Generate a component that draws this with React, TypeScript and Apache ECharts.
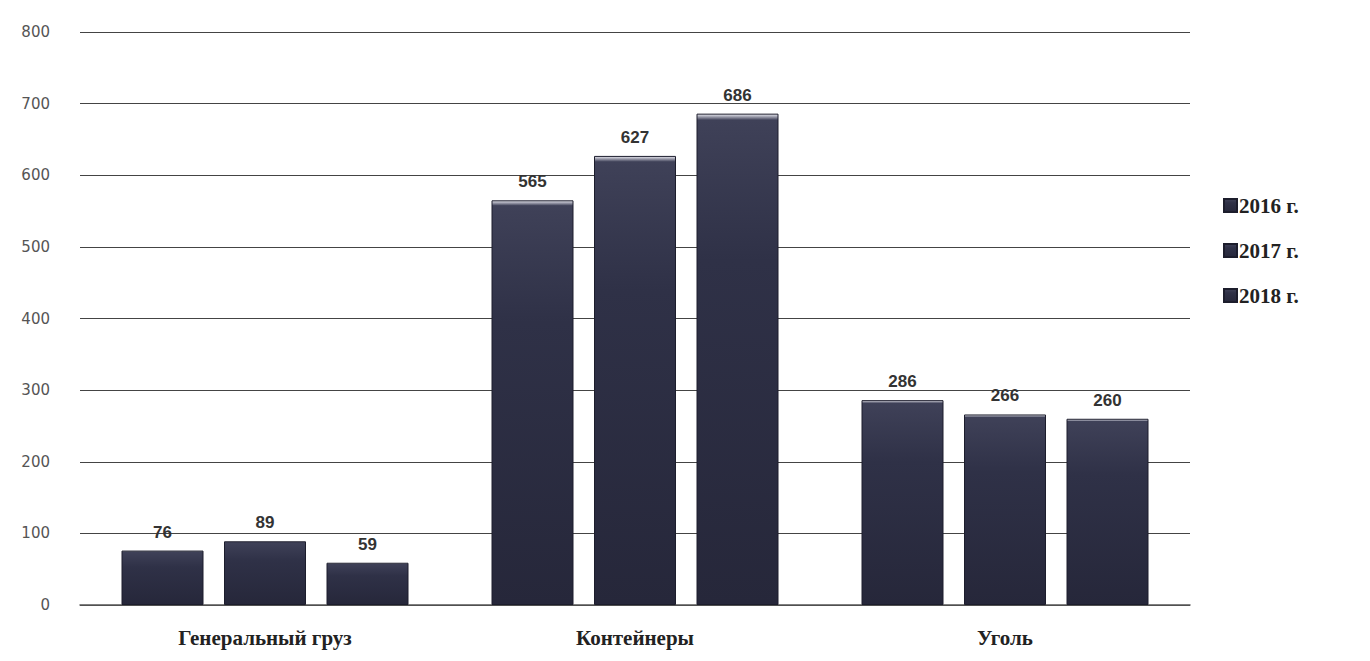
import React, { useEffect, useRef } from "react";
import * as echarts from "echarts";

const categories = ["Генеральный груз", "Контейнеры", "Уголь"];
const seriesNames = ["2016 г.", "2017 г.", "2018 г."];
const values2016 = [76, 565, 286];
const values2017 = [89, 627, 266];
const values2018 = [59, 686, 260];
const yTicks = [0, 100, 200, 300, 400, 500, 600, 700, 800];

export default function App() {
  const ref = useRef<HTMLDivElement>(null);
  useEffect(() => {
    if (!ref.current) return;
    const chart = echarts.init(ref.current, undefined, { renderer: "svg" });
    const barColor = new echarts.graphic.LinearGradient(0, 0, 0, 1, [
      { offset: 0, color: "#e8e8f0" },
      { offset: 0.012, color: "#3f4158" },
      { offset: 0.3, color: "#2f3147" },
      { offset: 1, color: "#26273a" },
    ]);
    const all = [values2016, values2017, values2018];
    chart.setOption({
      animation: false,
      backgroundColor: "#ffffff",
      grid: { left: 72, right: 172, top: 24, bottom: 48, containLabel: false },
      legend: {
        orient: "vertical",
        left: 1210,
        top: 182,
        itemWidth: 13,
        itemHeight: 13,
        itemGap: 24,
        icon: "rect",
        data: seriesNames,
        textStyle: {
          fontFamily: "Liberation Serif",
          fontWeight: "bold",
          fontSize: 21,
          color: "#222",
          padding: [0, 0, 0, -3],
        },
      },
      xAxis: {
        type: "category",
        data: categories,
        axisLine: { show: true, lineStyle: { color: "#555", width: 1.5 } },
        axisTick: { show: false },
        axisLabel: {
          fontFamily: "Liberation Serif",
          fontWeight: "bold",
          fontSize: 21,
          color: "#222",
          margin: 22,
        },
      },
      yAxis: {
        type: "value",
        min: 0,
        max: yTicks[yTicks.length - 1],
        interval: 100,
        axisLine: { show: false },
        axisTick: { show: false },
        axisLabel: {
          fontFamily: "DejaVu Sans",
          fontSize: 15,
          color: "#555",
          margin: 30,
        },
        splitLine: { lineStyle: { color: "#444", width: 1.2 } },
      },
      series: seriesNames.map((name, i) => ({
        name,
        type: "bar",
        data: all[i],
        barWidth: 82,
        barGap: "25%",
        itemStyle: { color: barColor, borderColor: "#1c1d2c", borderWidth: 1 },
        label: {
          show: true,
          position: "top",
          distance: 10,
          fontFamily: "Liberation Sans",
          fontWeight: "bold",
          fontSize: 17,
          color: "#333",
        },
      })),
    });
    return () => chart.dispose();
  }, []);
  return <div ref={ref} style={{ width: 1354, height: 645 }} />;
}
